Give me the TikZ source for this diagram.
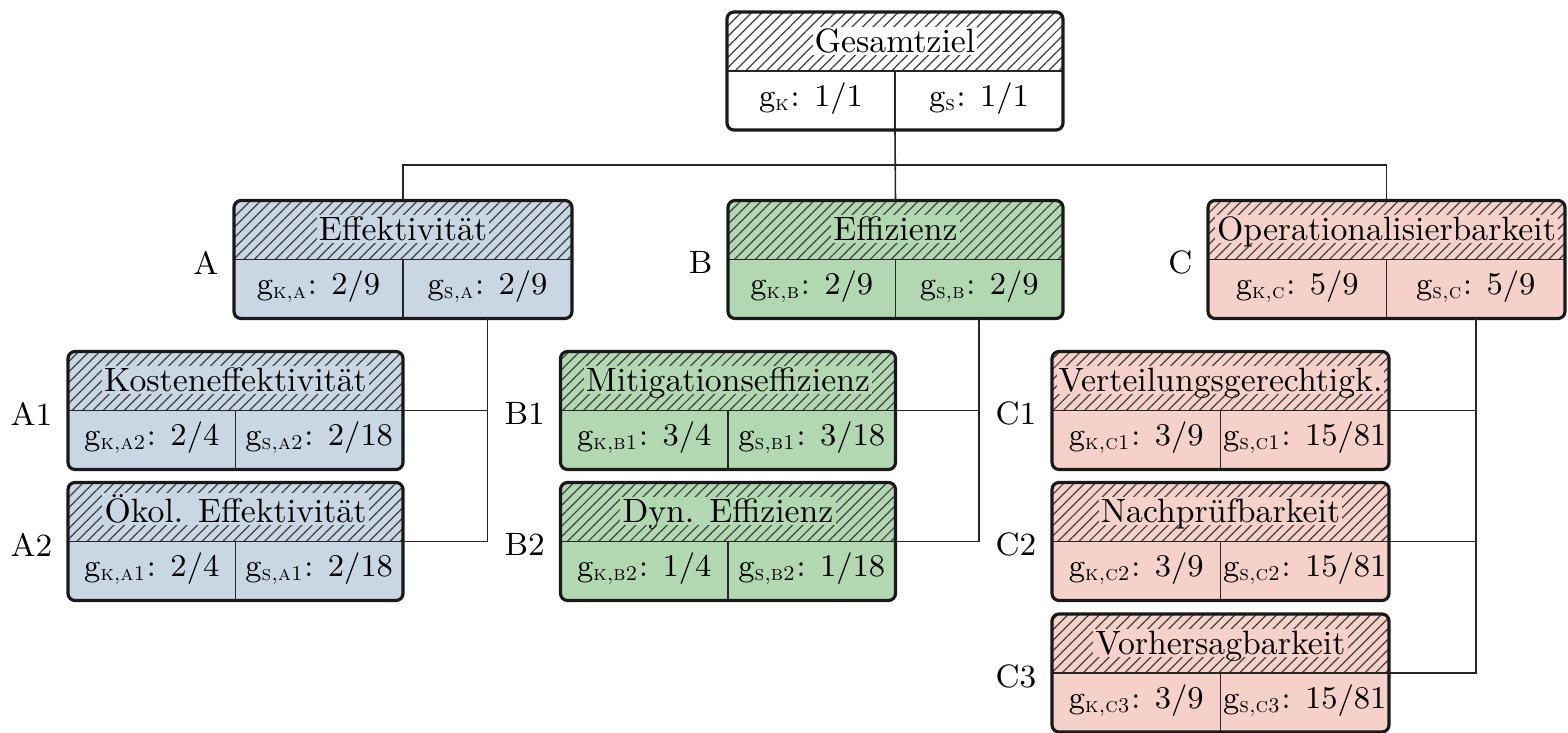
\documentclass[tikz,border=0pt]{standalone}
\usepackage{amsmath}
\usepackage{tikz}
\usetikzlibrary{calc, patterns.meta}

\definecolor{zielA}{RGB}{201,214,228}
\definecolor{zielB}{RGB}{178,216,178}
\definecolor{zielC}{RGB}{245,209,201}

\begin{document}
\begin{tikzpicture}[
            x=0.1mm, y=-0.1mm, % one unit per pixel, y pointing down
            font=\fontsize{9.6}{12}\selectfont,
            ziel/.style={rectangle, rounded corners=2pt, minimum height=11.8mm, outer sep=0pt, inner sep=0pt},
            rand/.style={line width=0.9pt, draw=black!90, rounded corners=2pt},
            teil/.style={line width=0.45pt, draw=black!85},
            schraffur/.style={pattern={Lines[angle=45, distance=2.1pt, line width=0.35pt]}, pattern color=black!75},
            titel/.style={anchor=base, inner sep=0.6pt, text depth=0pt},
            wert/.style={anchor=base, inner sep=0pt, font=\fontsize{9}{11}\selectfont},
            marke/.style={anchor=east, inner sep=0pt, font=\fontsize{9.2}{11}\selectfont},
            link/.style={line width=0.45pt, draw=black!85}
        ]

        \useasboundingbox (0,0) rectangle (1568,733);

        % Goal boxes: name/x/y/width/colour/title/subscript/K value/S value
        \foreach \nm/\px/\py/\bw/\col/\ttl/\sub/\vk/\vs in {
            G/895/71/336/white/Gesamtziel/{}/{1/1}/{1/1},
            A/403/259.5/338/zielA/Effektivität/{,a}/{2/9}/{2/9},
            B/895.5/259.5/335/zielB/Effizienz/{,b}/{2/9}/{2/9},
            C/1386.5/259.5/357/zielC/Operationalisierbarkeit/{,c}/{5/9}/{5/9},
            A1/235.5/410.5/335/zielA/Kosteneffektivität/{,a2}/{2/4}/{2/18},
            A2/235.5/541.5/335/zielA/Ökol. Effektivität/{,a1}/{2/4}/{2/18},
            B1/728/410.5/335/zielB/Mitigationseffizienz/{,b1}/{3/4}/{3/18},
            B2/728/541.5/335/zielB/Dyn. Effizienz/{,b2}/{1/4}/{1/18},
            C1/1220.5/410.5/337/zielC/Verteilungsgerechtigk./{,c1}/{3/9}/{15/81},
            C2/1220.5/541.5/337/zielC/Nachprüfbarkeit/{,c2}/{3/9}/{15/81},
            C3/1220.5/673/337/zielC/Vorhersagbarkeit/{,c3}/{3/9}/{15/81}}
        {
            \node[ziel, fill=\col, minimum width=\bw*0.1mm] (\nm) at (\px,\py) {};

            % hatched title row
            \begin{scope}
                \clip (\nm.west) rectangle (\nm.north east);
                \fill[schraffur, rounded corners=2pt] (\nm.south west) rectangle (\nm.north east);
            \end{scope}
            \node[titel, fill=\col] (\nm-titel) at ($(\nm.north)!0.5!(\nm.center)+(0,11)$) {\ttl};

            % cells
            \draw[teil] (\nm.west) -- (\nm.east);
            \draw[teil] (\nm.center) -- (\nm.south);
            \node[wert] (\nm-k) at ($(\nm.south west)!0.5!(\nm.center)+(0,6)$)
                {g\textsubscript{\textsc{k\sub}}: $\vk$};
            \node[wert] (\nm-s) at ($(\nm.south east)!0.5!(\nm.center)+(0,6)$)
                {g\textsubscript{\textsc{s\sub}}: $\vs$};

            \draw[rand] (\nm.south west) rectangle (\nm.north east);
        }

        % Box labels
        \foreach \nm in {A,B,C,A1,A2,B1,B2,C1,C2,C3}
        \node[marke] (lab-\nm) at ([xshift=-1.5mm, yshift=-0.3mm]\nm.west) {\nm};

        % Connections from the overall goal
        \coordinate (bus) at ($(G.south)!0.5!(B.north)$);
        \draw[link] (G.south) -- (B.north);
        \draw[link] (A.north) |- (bus) -| (C.north);

        % Connections to the sub goals
        \foreach \p in {A,B,C}
        \coordinate (\p-ast) at ($(\p.south)!0.5!(\p.south east)$);

        \foreach \p/\c in {A/A1, A/A2, B/B1, B/B2, C/C1, C/C2, C/C3}
        \draw[link] (\p-ast) |- (\c.east);

    \end{tikzpicture}
\end{document}
